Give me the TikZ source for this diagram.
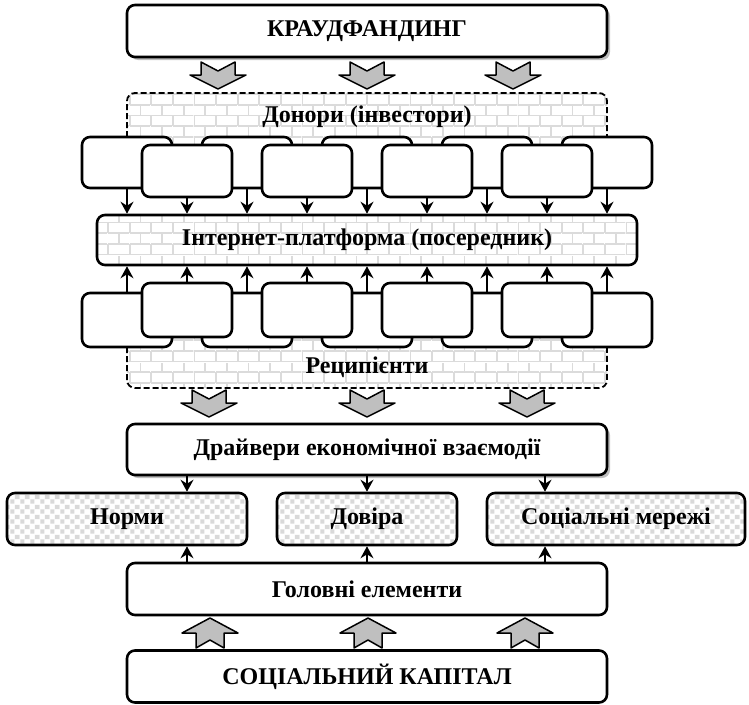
\documentclass[tikz,border=0pt]{standalone}
\usepackage{fontspec}
\setmainfont{Liberation Serif}
\usetikzlibrary{arrows.meta,patterns,shadows}

% brick fill for the dashed groups and the platform
\pgfdeclarepatterninherentlycolored{wallbricks}{\pgfpoint{-1pt}{-1pt}}{\pgfpoint{22.6pt}{22.4pt}}{\pgfpoint{21.6pt}{21.4pt}}{%
  \pgfsetfillcolor{white}
  \pgfpathrectangle{\pgfpoint{-1pt}{-1pt}}{\pgfpoint{23.6pt}{23.4pt}}\pgfusepath{fill}
  \pgfsetstrokecolor{black!14}
  \pgfsetlinewidth{1.8pt}
  \pgfpathmoveto{\pgfpoint{0pt}{0pt}}\pgfpathlineto{\pgfpoint{21.6pt}{0pt}}
  \pgfpathmoveto{\pgfpoint{0pt}{10.7pt}}\pgfpathlineto{\pgfpoint{21.6pt}{10.7pt}}
  \pgfpathmoveto{\pgfpoint{0pt}{0pt}}\pgfpathlineto{\pgfpoint{0pt}{10.7pt}}
  \pgfpathmoveto{\pgfpoint{10.8pt}{10.7pt}}\pgfpathlineto{\pgfpoint{10.8pt}{21.4pt}}
  \pgfusepath{stroke}}
% grey dots for the three element boxes
\pgfdeclarepatterninherentlycolored{greydots}{\pgfpointorigin}{\pgfpoint{10pt}{10pt}}{\pgfpoint{10pt}{10pt}}{%
  \pgfsetfillcolor{white}
  \pgfpathrectangle{\pgfpointorigin}{\pgfpoint{10pt}{10pt}}\pgfusepath{fill}
  \pgfsetfillcolor{black!15}
  \pgfpathrectangle{\pgfpoint{0.3pt}{0.3pt}}{\pgfpoint{4.6pt}{4.6pt}}
  \pgfpathrectangle{\pgfpoint{5.3pt}{5.3pt}}{\pgfpoint{4.6pt}{4.6pt}}
  \pgfusepath{fill}}

\tikzset{
  plainbox/.style={draw, line width=2.6pt, rounded corners=8pt, fill=white, inner sep=0pt, align=center},
  brickbox/.style={plainbox, pattern=wallbricks},
  dotbox/.style={plainbox, pattern=greydots},
  shadowed/.style={drop shadow={shadow xshift=3pt, shadow yshift=-3pt, fill=black, opacity=0.25}},
  boldtext/.style={font=\bfseries\fontsize{24}{26}\selectfont},
  flow/.style={-{Stealth[length=12pt,width=13pt,inset=4pt]}, line width=1.8pt},
  groupline/.style={line width=1.8pt, dash pattern=on 6pt off 3pt, rounded corners=8pt},
  downarr/.pic={\draw[fill=black!25, line width=1.5pt] (-17,0) -- (0,9) -- (17,0) -- (17,13) -- (28,13) -- (0,27) -- (-28,13) -- (-17,13) -- cycle;},
  uparr/.pic={\draw[fill=black!25, line width=1.5pt] (-14,0) -- (0,-8) -- (14,0) -- (14,-15) -- (28,-15) -- (0,-30) -- (-28,-15) -- (-14,-15) -- cycle;}
}

\begin{document}
\begin{tikzpicture}[x=1pt,y=-1pt,line join=round]
  \useasboundingbox (0,0) rectangle (749,704);

  % crowdfunding
  \node[plainbox, shadowed, boldtext, minimum width=480, minimum height=52] (crowd) at (367,31) {КРАУДФАНДИНГ};
  \foreach \x in {218,367,513} \pic at (\x,62) {downarr};

  % donors group
  \fill[pattern=wallbricks, rounded corners=8pt] (127,170) -- (127,93) -- (607,93) -- (607,170) -- cycle;
  \draw[groupline] (127,137) -- (127,93) -- (607,93) -- (607,137);
  \node[boldtext] (donors) at (367,117) {Донори (інвестори)};
  \foreach \i in {1,...,5}
    \node[plainbox, minimum width=90, minimum height=51] (donb\i) at ({127+120*(\i-1)},162.5) {};
  \foreach \i in {1,...,4}
    \node[plainbox, minimum width=90, minimum height=52] (donf\i) at ({187+120*(\i-1)},171) {};

  % platform
  \node[brickbox, boldtext, minimum width=540, minimum height=50] (plat) at (367,240) {Інтернет-платформа (посередник)};
  \foreach \i in {1,...,5} \draw[flow] (donb\i.south) -- (donb\i.south |- plat.north);
  \foreach \i in {1,...,4} \draw[flow] (donf\i.south) -- (donf\i.south |- plat.north);

  % recipients group
  \fill[pattern=wallbricks, rounded corners=8pt] (127,330) -- (127,388) -- (607,388) -- (607,330) -- cycle;
  \draw[groupline] (127,347) -- (127,388) -- (607,388) -- (607,347);
  \node[boldtext] (recip) at (367,367) {Реципієнти};
  \foreach \i in {1,...,5}
    \node[plainbox, minimum width=90, minimum height=54] (recb\i) at ({127+120*(\i-1)},320) {};
  \foreach \i in {1,...,4}
    \node[plainbox, minimum width=90, minimum height=54] (recf\i) at ({187+120*(\i-1)},310) {};
  \foreach \i in {1,...,5} \draw[flow] (recb\i.north) -- (recb\i.north |- plat.south);
  \foreach \i in {1,...,4} \draw[flow] (recf\i.north) -- (recf\i.north |- plat.south);
  \foreach \x in {209,367,527} \pic at (\x,390) {downarr};

  % drivers and elements
  \node[plainbox, shadowed, boldtext, minimum width=480, minimum height=51] (drive) at (367,449.5) {Драйвери економічної взаємодії};
  \node[dotbox, boldtext, minimum width=240, minimum height=52] (norms) at (127,519) {Норми};
  \node[dotbox, boldtext, minimum width=180, minimum height=52] (trust) at (367,519) {Довіра};
  \node[dotbox, boldtext, minimum width=258, minimum height=52] (nets) at (616,519) {Соціальні мережі};
  \node[plainbox, boldtext, minimum width=480, minimum height=52] (main) at (367,589) {Головні елементи};
  \foreach \x in {187,367,545} {
    \draw[flow] (drive.south -| \x,0) -- (norms.north -| \x,0);
    \draw[flow] (main.north -| \x,0) -- (norms.south -| \x,0);
  }
  \foreach \x in {210,368,525} \pic at (\x,648) {uparr};

  % social capital
  \node[plainbox, boldtext, minimum width=480, minimum height=52] (capital) at (367,676.5) {СОЦІАЛЬНИЙ КАПІТАЛ};
\end{tikzpicture}
\end{document}
